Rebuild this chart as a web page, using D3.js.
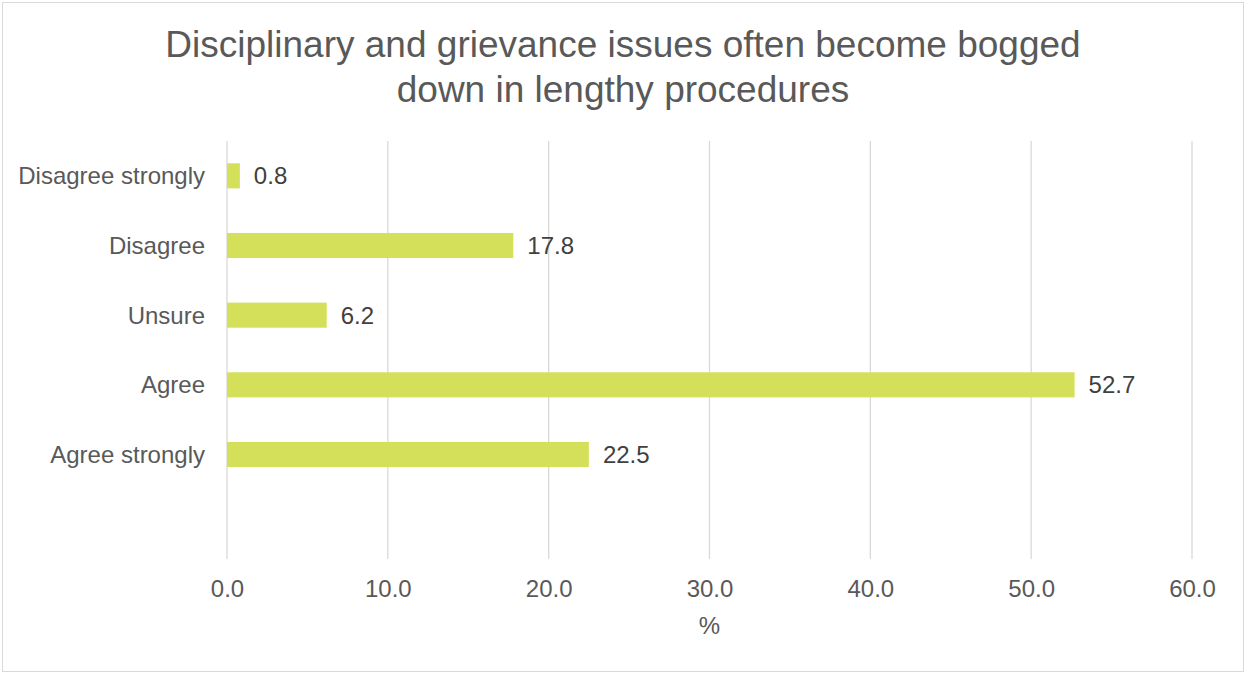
<!DOCTYPE html>
<html>
<head>
<meta charset="utf-8">
<script src="https://cdn.jsdelivr.net/npm/d3@7"></script>
<style>
  body { margin: 0; background: #fff; }
  text { font-family: "Liberation Sans", Arial, sans-serif; }
</style>
</head>
<body>
<script>
// Chart data
var categories = ["Disagree strongly", "Disagree", "Unsure", "Agree", "Agree strongly"];
var values = [0.8, 17.8, 6.2, 52.7, 22.5];
var xTicks = [0, 10, 20, 30, 40, 50, 60];
var titleLines = ["Disciplinary and grievance issues often become bogged", "down in lengthy procedures"];

var w = 1245;
var h = 673;

var svg = d3.select("body")
    .append("svg")
    .attr("width", w)
    .attr("height", h);

// outer frame
svg.append("rect")
    .attr("x", 2.5)
    .attr("y", 2.5)
    .attr("width", w - 4)
    .attr("height", h - 4)
    .attr("fill", "#fff")
    .attr("stroke", "#d9d9d9")
    .attr("stroke-width", 1);

// title
svg.append("text")
    .attr("text-anchor", "middle")
    .attr("font-size", "37px")
    .attr("fill", "#595959")
    .selectAll("tspan")
    .data(titleLines)
    .enter()
    .append("tspan")
    .attr("x", 623)
    .attr("y", function(d, i) { return 57 + i * 44.5; })
    .text(function(d) { return d; });

var x = d3.scaleLinear()
    .domain([0, 60])
    .range([227, 1192]);

// one empty slot at the bottom, like the source chart
var y = d3.scaleBand()
    .domain(categories.concat([""]))
    .range([141, 559])
    .paddingInner(0.64)
    .paddingOuter(0.32);

// vertical gridlines
svg.append("g")
    .selectAll("line")
    .data(xTicks)
    .enter()
    .append("line")
    .attr("x1", function(d) { return x(d); })
    .attr("x2", function(d) { return x(d); })
    .attr("y1", 141)
    .attr("y2", 559)
    .attr("stroke", "#d9d9d9")
    .attr("stroke-width", 1.3);

// x axis tick labels
var xAxis = d3.axisBottom(x)
    .tickValues(xTicks)
    .tickFormat(d3.format(".1f"))
    .tickSize(0)
    .tickPadding(0);

var gx = svg.append("g")
    .attr("transform", "translate(0,559)")
    .call(xAxis);
gx.select(".domain").remove();
gx.selectAll("text")
    .attr("font-family", "Liberation Sans, Arial, sans-serif")
    .attr("font-size", "24px")
    .attr("fill", "#595959")
    .attr("dy", null)
    .attr("y", 38);

// y axis category labels
var yAxis = d3.axisLeft(y)
    .tickValues(categories)
    .tickSize(0)
    .tickPadding(22);

var gy = svg.append("g")
    .attr("transform", "translate(227,0)")
    .call(yAxis);
gy.select(".domain").remove();
gy.selectAll("text")
    .attr("font-family", "Liberation Sans, Arial, sans-serif")
    .attr("font-size", "24px")
    .attr("fill", "#595959")
    .attr("dy", "0.36em");

// bars
svg.selectAll("rect.bar")
    .data(values)
    .enter()
    .append("rect")
    .attr("class", "bar")
    .attr("x", x(0))
    .attr("y", function(d, i) { return y(categories[i]); })
    .attr("width", function(d) { return x(d) - x(0); })
    .attr("height", y.bandwidth())
    .attr("fill", "#d4e05a");

// value labels
svg.selectAll("text.val")
    .data(values)
    .enter()
    .append("text")
    .attr("class", "val")
    .attr("x", function(d) { return x(d) + 14; })
    .attr("y", function(d, i) { return y(categories[i]) + y.bandwidth() / 2; })
    .attr("dy", "0.36em")
    .attr("font-size", "24px")
    .attr("fill", "#404040")
    .text(function(d) { return d3.format(".1f")(d); });

// axis title
svg.append("text")
    .attr("x", (x(0) + x(60)) / 2)
    .attr("y", 634)
    .attr("text-anchor", "middle")
    .attr("font-size", "24px")
    .attr("fill", "#595959")
    .text("%");
</script>
</body>
</html>
